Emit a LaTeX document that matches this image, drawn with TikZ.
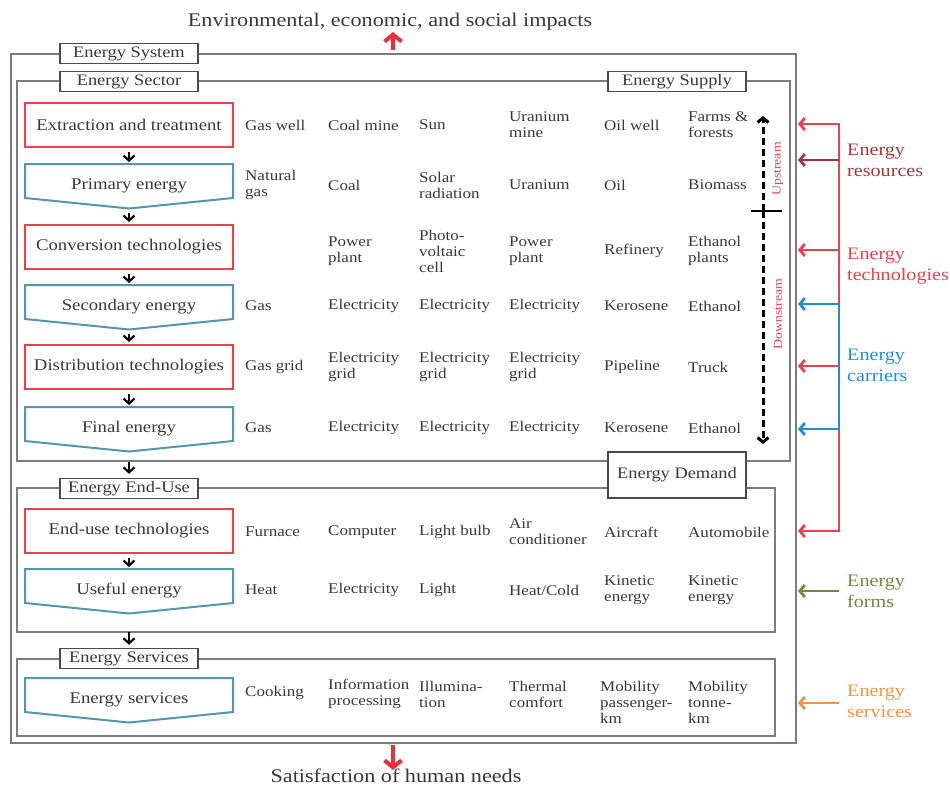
\documentclass[tikz,border=0pt]{standalone}
\usepackage{fontspec}
\setmainfont{Liberation Serif}[FakeStretch=1.15]
\usetikzlibrary{arrows.meta,calc}

\definecolor{txt}{HTML}{383838}
\definecolor{framegray}{HTML}{7C7C7C}
\definecolor{tagline}{HTML}{4A4A4A}
\definecolor{techred}{HTML}{E8414A}
\definecolor{carrierblue}{HTML}{5595B0}
\definecolor{resred}{HTML}{A0373A}
\definecolor{linkblue}{HTML}{1F8FD0}
\definecolor{formgreen}{HTML}{6E8A3A}
\definecolor{svcorange}{HTML}{F5923E}
\definecolor{bigred}{HTML}{EA2F3A}

% one carrier (pentagon) box: name, y of text, text
\newcommand\carrierbox[3]{%
  \node[carriertext] (#1) at (129,#2+1.5) {#3};
  \coordinate (#1-top) at (129,#2-20);
  \coordinate (#1-tip) at (129,#2+24.5);
  \draw[carrierline] (25,#2-20) -- (233,#2-20) -- (233,#2+14) -- (#1-tip) -- (25,#2+14) -- cycle;
}
% one row of examples: tag, y, six entries
\newcommand\cellrow[8]{%
  \node[cell] (#1-a) at (245,#2) {#3};
  \node[cell] (#1-b) at (328,#2) {#4};
  \node[cell] (#1-c) at (419,#2) {#5};
  \node[cell] (#1-d) at (509,#2) {#6};
  \node[cell] (#1-e) at (604,#2) {#7};
  \node[cell] (#1-f) at (688,#2) {#8};
}

\begin{document}
\begin{tikzpicture}[x=1pt,y=-1pt,
  cell/.style={anchor=west, align=left, inner sep=0pt, yshift=-1pt, text=txt, font=\fontsize{14.8}{16}\selectfont},
  techbox/.style={draw=techred, line width=2pt, minimum width=208pt, minimum height=44pt, inner sep=0pt, text=txt, font=\fontsize{16.3}{18}\selectfont},
  carriertext/.style={inner sep=0pt, text=txt, font=\fontsize{16.3}{18}\selectfont},
  carrierline/.style={draw=carrierblue, line width=2pt, line join=miter},
  tag/.style={draw=tagline, fill=white, line width=1.4pt, minimum width=138pt, minimum height=20pt, inner sep=0pt, text=txt, font=\fontsize{16}{17}\selectfont},
  framebox/.style={draw=framegray, line width=1.5pt},
  flow/.style={-{Straight Barb[length=5pt,width=11pt]}, line width=2.2pt, black},
  bigarrow/.style={-{Straight Barb[length=7pt,width=17pt]}, line width=4pt, bigred},
  sidearrow/.style={line width=2.8pt, -{Straight Barb[length=5pt,width=12pt]}},
  sidelabel/.style={anchor=west, align=left, inner sep=0pt, font=\fontsize{17.5}{21}\selectfont},
  streamlabel/.style={rotate=90, inner sep=0pt, text=techred, font=\fontsize{12}{12}\selectfont},
  caption/.style={inner sep=0pt, text=txt, font=\fontsize{19.3}{21}\selectfont}]
\useasboundingbox (0,0) rectangle (950,785);

% frames
\draw[framebox] (11,54) rectangle (796,743);
\draw[framebox] (17,81) rectangle (790,461);
\draw[framebox] (17,488) rectangle (775,632);
\draw[framebox] (17,659) rectangle (775,736);

% frame tags
\node[tag] (tSystem) at (129,53.5) {Energy System};
\node[tag] (tSector) at (129,81.5) {Energy Sector};
\node[tag] (tSupply) at (677,81.5) {Energy Supply};
\node[tag] (tEndUse) at (129,488.5) {Energy End-Use};
\node[tag, minimum height=46pt] (tDemand) at (677,475) {Energy Demand};
\node[tag] (tServices) at (129,658.5) {Energy Services};

% chain of stages
\node[techbox] (ext) at (129,125) {Extraction and treatment};
\carrierbox{pri}{184}{Primary energy}
\node[techbox] (conv) at (129,247) {Conversion technologies};
\carrierbox{sec}{305}{Secondary energy}
\node[techbox] (dist) at (129,367) {Distribution technologies};
\carrierbox{fin}{427}{Final energy}
\node[techbox] (enduse) at (129,531) {End-use technologies};
\carrierbox{use}{589}{Useful energy}
\carrierbox{svc}{698}{Energy services}

\draw[flow, shorten <=4pt, shorten >=2pt] (ext.south) -- (pri-top);
\draw[flow, shorten <=4pt, shorten >=2pt] (pri-tip) -- (conv.north);
\draw[flow, shorten <=4pt, shorten >=2pt] (conv.south) -- (sec-top);
\draw[flow, shorten <=4pt, shorten >=2pt] (sec-tip) -- (dist.north);
\draw[flow, shorten <=4pt, shorten >=2pt] (dist.south) -- (fin-top);
\draw[flow, shorten <=10pt, shorten >=4pt] (fin-tip) -- (tEndUse.north);
\draw[flow, shorten <=4pt, shorten >=2pt] (enduse.south) -- (use-top);
\draw[flow, shorten <=18pt, shorten >=3pt] (use-tip) -- (tServices.north);

% examples
\cellrow{r1}{124}{Gas well}{Coal mine}{Sun}{Uranium\\mine}{Oil well}{Farms \&\\forests}
\cellrow{r2}{184}{Natural\\gas}{Coal}{Solar\\radiation}{Uranium}{Oil}{Biomass}
\cellrow{r3}{250}{}{Power\\plant}{Photo-\\voltaic\\cell}{Power\\plant}{Refinery}{Ethanol\\plants}
\cellrow{r4}{305}{Gas}{Electricity}{Electricity}{Electricity}{Kerosene}{Ethanol}
\cellrow{r5}{366}{Gas grid}{Electricity\\grid}{Electricity\\grid}{Electricity\\grid}{Pipeline}{Truck}
\cellrow{r6}{427}{Gas}{Electricity}{Electricity}{Electricity}{Kerosene}{Ethanol}
\cellrow{r7}{531}{Furnace}{Computer}{Light bulb}{Air\\conditioner}{Aircraft}{Automobile}
\cellrow{r8}{589}{Heat}{Electricity}{Light}{Heat/Cold}{Kinetic\\energy}{Kinetic\\energy}
\node[cell] (r9-a) at (245,692) {Cooking};
\node[cell] (r9-b) at (328,693) {Information\\processing};
\node[cell] (r9-c) at (419,693) {Illumina-\\tion};
\node[cell] (r9-d) at (509,693) {Thermal\\comfort};
\node[cell] (r9-e) at (600,701) {Mobility\\passenger-\\km};
\node[cell] (r9-f) at (688,701) {Mobility\\tonne-\\km};

% upstream / downstream
\coordinate (split) at (763,211);
\coordinate (upEnd) at (763,116);
\coordinate (downEnd) at (763,444);
\draw[line width=3pt, dash pattern=on 7pt off 4pt, -{Straight Barb[length=4.5pt,width=11pt]}, black] (split) -- (upEnd);
\draw[line width=3pt, dash pattern=on 7pt off 4pt, -{Straight Barb[length=4.5pt,width=11pt]}, black] (split) -- (downEnd);
\draw[line width=1.6pt, black] (751,211) -- (782,211);
\draw[line width=3pt, black] (763,205) -- (763,217);
\node[streamlabel] (lUp) at (778,169) {Upstream};
\node[streamlabel] (lDown) at (778,314) {Downstream};

% impacts and needs
\node[caption] (title) at (390,22) {Environmental, economic, and social impacts};
\node[caption] (needs) at (396,776) {Satisfaction of human needs};
\coordinate (sysUp) at (393,54);
\coordinate (sysDown) at (393,743);
\draw[bigarrow, shorten <=4pt, shorten >=1pt] (sysUp) -- (sysUp |- title.south);
\draw[bigarrow, shorten <=2pt, shorten >=-1pt] (sysDown) -- (sysDown |- needs.north);

% side brackets
\coordinate (bTop) at (839,124);
\coordinate (bBot) at (839,531);
\draw[techred, line width=2.8pt, {Straight Barb[length=5pt,width=12pt]}-{Straight Barb[length=5pt,width=12pt]}]
  (798,124) -- (bTop) -- (bBot) -- (798,531);
\draw[sidearrow, resred] (839,160) -- (798,160);
\draw[sidearrow, techred] (839,250) -- (798,250);
\draw[sidearrow, techred] (839,366) -- (798,366);
\draw[linkblue, line width=2.8pt, {Straight Barb[length=5pt,width=12pt]}-{Straight Barb[length=5pt,width=12pt]}]
  (798,304) -- (839,304) -- (839,429) -- (798,429);
\draw[sidearrow, formgreen] (839,591) -- (798,591);
\draw[sidearrow, svcorange] (839,703) -- (798,703);

\node[sidelabel, text=resred] (lRes) at (847,160.5) {Energy\\resources};
\node[sidelabel, text=techred] (lTech) at (847,266) {Energy\\technologies};
\node[sidelabel, text=linkblue] (lCarr) at (847,365.5) {Energy\\carriers};
\node[sidelabel, text=formgreen] (lForm) at (847,591) {Energy\\forms};
\node[sidelabel, text=svcorange] (lSvc) at (847,701) {Energy\\services};
\end{tikzpicture}
\end{document}
